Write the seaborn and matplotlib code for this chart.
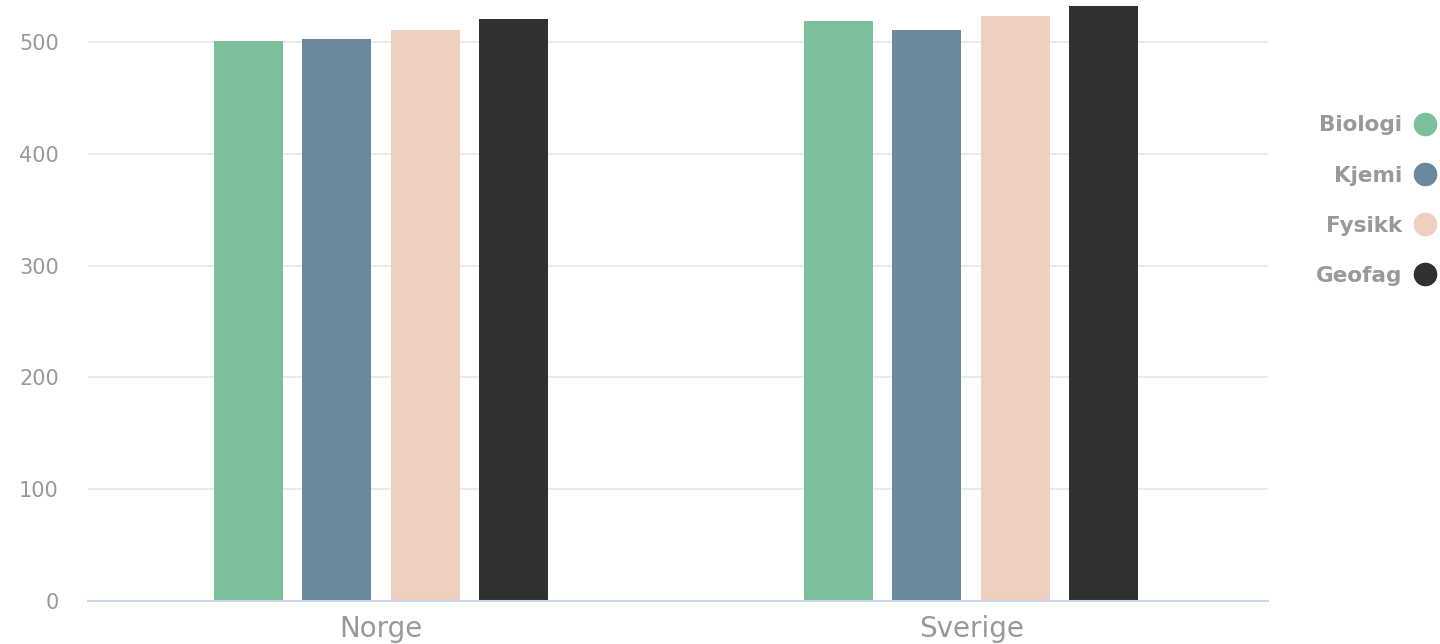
import matplotlib
matplotlib.use("Agg")
import matplotlib.pyplot as plt
from matplotlib.lines import Line2D
import seaborn as sns
import pandas as pd

# Scores by country and subject
countries = ["Norge", "Sverige"]
subjects = ["Biologi", "Kjemi", "Fysikk", "Geofag"]
norge = [501, 503, 511, 521]
sverige = [519, 511, 523, 532]
colors = ["#7dbe9b", "#6b889d", "#eecfc1", "#303030"]

rows = []
for country, vals in zip(countries, [norge, sverige]):
    for subj, v in zip(subjects, vals):
        rows.append({"land": country, "fag": subj, "score": v})
df = pd.DataFrame(rows)

sns.set_theme(style="white")
plt.rcParams["font.family"] = ["DejaVu Sans"]

fig = plt.figure(figsize=(14.4, 6.44), dpi=100)
ax = fig.add_axes([88 / 1440, 1 - 601 / 644, (1268 - 88) / 1440, 601 / 644])

sns.barplot(data=df, x="land", y="score", hue="fag", hue_order=subjects,
            palette=colors, width=0.6, gap=0.22, saturation=1,
            linewidth=0, legend=False, ax=ax)

ax.set_ylim(0, 537.6)
ax.set_xlim(-0.497, 1.503)
ax.set_yticks([0, 100, 200, 300, 400, 500])
ax.yaxis.grid(True, color="#e6e6e6", linewidth=1.2)
ax.set_axisbelow(True)
for side in ["top", "right", "left"]:
    ax.spines[side].set_visible(False)
ax.spines["bottom"].set_color("#ccd6eb")
ax.spines["bottom"].set_linewidth(1.5)
ax.set_xlabel("")
ax.set_ylabel("")
ax.tick_params(axis="y", length=0, pad=21, labelsize=15, labelcolor="#999999")
ax.tick_params(axis="x", length=0, pad=10, labelsize=20, labelcolor="#999999")

handles = [Line2D([0], [0], marker="o", linestyle="", markersize=16,
                  markerfacecolor=c, markeredgecolor=c) for c in colors]
leg = fig.legend(handles, subjects, loc="upper right",
                 bbox_to_anchor=(1455 / 1440, 1 - 96 / 644),
                 markerfirst=False, frameon=False, labelspacing=1.4,
                 handletextpad=0.55, handlelength=1.0, fontsize=15.5)
for t in leg.get_texts():
    t.set_color("#999999")
    t.set_fontweight("bold")

fig.savefig("out.png", dpi=100)
